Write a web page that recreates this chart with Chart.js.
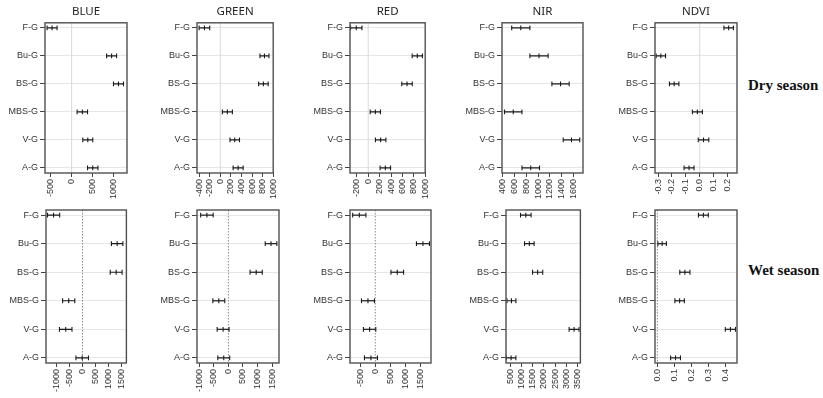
<!DOCTYPE html>
<html>
<head>
<meta charset="utf-8">
<script src="https://cdn.jsdelivr.net/npm/chart.js@4/dist/chart.umd.min.js"></script>
<style>
  body { margin: 0; background: #fff; width: 823px; height: 398px; position: relative; overflow: hidden; }
  canvas { position: absolute; }
  .season { position: absolute; font: bold 15px 'Liberation Serif', 'Times New Roman', serif; color: #111; white-space: nowrap; }
</style>
</head>
<body>
<div class="season" style="left:748px;top:77px">Dry season</div>
<div class="season" style="left:748px;top:262px">Wet season</div>
<script>
const categories = ['F-G', 'Bu-G', 'BS-G', 'MBS-G', 'V-G', 'A-G'];
const bands = ['BLUE', 'GREEN', 'RED', 'NIR', 'NDVI'];

// dry season: estimated difference and half width of the interval
const dryBlue = [-470, 960, 1125, 257, 388, 507];
const dryBlueErr = [120, 120, 120, 125, 120, 125];
const dryGreen = [-300, 835, 815, 134, 273, 337];
const dryGreenErr = [100, 85, 90, 95, 90, 95];
const dryRed = [-210, 861, 681, 125, 218, 300];
const dryRedErr = [100, 90, 92, 90, 92, 92];
const dryNir = [708, 1016, 1380, 580, 1565, 876];
const dryNirErr = [154, 154, 146, 148, 140, 148];
const dryNdvi = [0.208, -0.28, -0.184, -0.017, 0.027, -0.077];
const dryNdviErr = [0.034, 0.034, 0.034, 0.036, 0.038, 0.036];

// wet season
const wetBlue = [-1110, 1326, 1288, -530, -644, -13];
const wetBlueErr = [233, 220, 227, 233, 240, 240];
const wetGreen = [-739, 1466, 955, -330, -182, -160];
const wetGreenErr = [215, 200, 210, 205, 205, 205];
const wetRed = [-525, 1565, 722, -240, -186, -142];
const wetRedErr = [218, 213, 208, 213, 203, 213];
const wetNir = [1194, 1350, 1718, 557, 3333, 542];
const wetNirErr = [234, 212, 226, 198, 220, 212];
const wetNdvi = [0.271, 0.028, 0.162, 0.131, 0.43, 0.107];
const wetNdviErr = [0.029, 0.025, 0.03, 0.028, 0.03, 0.029];

// axis ranges and tick labels
const dryTicks = [
  [-500, 0, 500, 1000],
  [-400, -200, 0, 200, 400, 600, 800, 1000],
  [-200, 0, 200, 400, 600, 800, 1000],
  [400, 600, 800, 1000, 1200, 1400, 1600],
  [-0.3, -0.2, -0.1, 0, 0.1, 0.2],
];
const wetTicks = [
  [-1000, -500, 0, 500, 1000, 1500],
  [-1000, -500, 0, 500, 1000, 1500],
  [-500, 0, 500, 1000, 1500],
  [500, 1000, 1500, 2000, 2500, 3000, 3500],
  [0, 0.1, 0.2, 0.3, 0.4],
];
const dryRange = [[-640, 1330], [-440, 1000], [-320, 1000], [390, 1760], [-0.322, 0.268]];
const wetRange = [[-1400, 1680], [-1080, 1740], [-830, 1830], [316, 3613], [-0.014, 0.469]];

const dryMeans = [dryBlue, dryGreen, dryRed, dryNir, dryNdvi];
const dryErrs = [dryBlueErr, dryGreenErr, dryRedErr, dryNirErr, dryNdviErr];
const wetMeans = [wetBlue, wetGreen, wetRed, wetNir, wetNdvi];
const wetErrs = [wetBlueErr, wetGreenErr, wetRedErr, wetNirErr, wetNdviErr];

const INK = '#1a1a1a';
const AXIS_W = 45;

const rows = [
  { top: 0, height: 200, padTop: 0, xHeight: 27, title: true, left: [45, 197, 350, 502, 655], width: [82, 81, 80, 81, 82],
    means: dryMeans, errs: dryErrs, ticks: dryTicks, range: dryRange, zeroColor: '#d8d8d8', zeroDash: [] },
  { top: 200, height: 198, padTop: 10, xHeight: 35, title: false, left: [46, 197, 350, 506, 655], width: [81, 82, 81, 77, 82],
    means: wetMeans, errs: wetErrs, ticks: wetTicks, range: wetRange, zeroColor: '#8a8a8a', zeroDash: [1.5, 1.5] },
];

const framePlugin = {
  id: 'frame',
  beforeDatasetsDraw(chart, args, opts) {
    const { ctx, chartArea: a, scales: { x } } = chart;
    if (x.min <= 0 && x.max >= 0) {
      const px = x.getPixelForValue(0);
      ctx.save();
      ctx.strokeStyle = opts.zeroColor;
      ctx.lineWidth = 1;
      ctx.setLineDash(opts.zeroDash);
      ctx.beginPath();
      ctx.moveTo(px, a.top);
      ctx.lineTo(px, a.bottom);
      ctx.stroke();
      ctx.restore();
    }
  },
  afterDraw(chart) {
    const { ctx, chartArea: a } = chart;
    ctx.save();
    ctx.strokeStyle = '#505050';
    ctx.lineWidth = 1.4;
    ctx.strokeRect(a.left, a.top, a.right - a.left, a.bottom - a.top);
    ctx.restore();
  },
};

function fmt(v, ndvi) {
  return ndvi ? Number(v).toFixed(1) : String(v);
}

rows.forEach((row) => {
  bands.forEach((band, b) => {
    const mean = row.means[b];
    const err = row.errs[b];
    const ndvi = band === 'NDVI';
    const canvas = document.createElement('canvas');
    const w = AXIS_W + row.width[b] + 8;
    canvas.width = w;
    canvas.height = row.height;
    canvas.style.left = (row.left[b] - AXIS_W) + 'px';
    canvas.style.top = row.top + 'px';
    canvas.style.width = w + 'px';
    canvas.style.height = row.height + 'px';
    document.body.appendChild(canvas);

    const whiskers = categories.map((c, i) => ({
      data: [{ x: mean[i] - err[i], y: i }, { x: mean[i] + err[i], y: i }],
      showLine: true,
      borderColor: INK,
      borderWidth: 1.2,
      pointRadius: 0,
    }));
    const caps = [];
    categories.forEach((c, i) => {
      caps.push({ x: mean[i] - err[i], y: i }, { x: mean[i], y: i }, { x: mean[i] + err[i], y: i });
    });

    new Chart(canvas, {
      type: 'scatter',
      data: {
        datasets: [
          ...whiskers,
          {
            data: caps,
            pointStyle: 'line',
            rotation: 90,
            radius: 2.4,
            borderColor: INK,
            borderWidth: 1.1,
          },
        ],
      },
      plugins: [framePlugin],
      options: {
        responsive: false,
        animation: false,
        events: [],
        layout: { padding: { top: row.padTop, right: 8, left: 0, bottom: 0 } },
        plugins: {
          legend: { display: false },
          tooltip: { enabled: false },
          title: {
            display: row.title,
            text: band,
            fullSize: false,
            color: '#222',
            font: { family: "'Noto Sans', sans-serif", size: 11.5, weight: 'normal' },
            padding: { top: 5, bottom: 4 },
          },
          frame: { zeroColor: row.zeroColor, zeroDash: row.zeroDash },
        },
        scales: {
          x: {
            type: 'linear',
            min: row.range[b][0],
            max: row.range[b][1],
            afterBuildTicks: (s) => { s.ticks = row.ticks[b].map((v) => ({ value: v })); },
            afterFit: (s) => { s.height = row.xHeight; },
            grid: { drawOnChartArea: false, tickColor: '#444', tickLength: 4 },
            border: { display: false },
            ticks: {
              autoSkip: false,
              minRotation: 90,
              maxRotation: 90,
              padding: 2,
              color: '#333',
              font: { family: "'Liberation Sans', Arial, sans-serif", size: 9 },
              callback: (v) => fmt(v, ndvi),
            },
          },
          y: {
            type: 'linear',
            reverse: true,
            min: -0.18,
            max: 5.18,
            afterBuildTicks: (s) => { s.ticks = categories.map((c, i) => ({ value: i })); },
            afterFit: (s) => { s.width = AXIS_W; },
            grid: { color: '#e6e6e6', tickColor: '#444', tickLength: 5 },
            border: { display: false },
            ticks: {
              autoSkip: false,
              padding: 2,
              color: '#333',
              font: { family: "'Liberation Sans', Arial, sans-serif", size: 9 },
              callback: (v) => categories[v],
            },
          },
        },
      },
    });
  });
});
</script>
</body>
</html>
